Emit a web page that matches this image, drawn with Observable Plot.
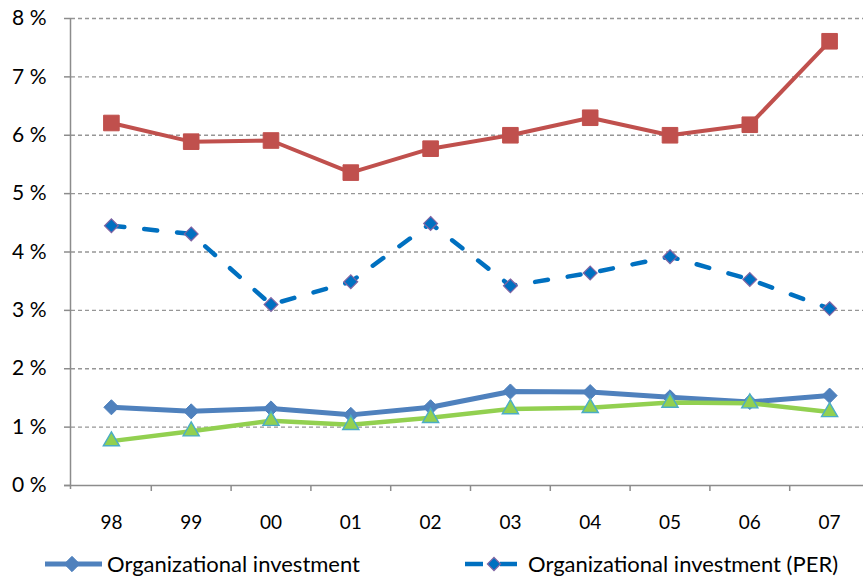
<!DOCTYPE html>
<html>
<head>
<meta charset="utf-8">
<script src="https://cdn.jsdelivr.net/npm/d3@7"></script>
<script src="https://cdn.jsdelivr.net/npm/@observablehq/plot@0.6"></script>
<style>
  html, body { margin: 0; padding: 0; background: #fff; overflow: hidden; }
  body { font-family: Lato, "Open Sans", sans-serif; }
  #legend { position: relative; height: 39px; }
  .item { position: absolute; top: 10px; height: 28px; display: flex; align-items: center;
          font-size: 22px; line-height: 28px; color: #000; white-space: nowrap; }
  .item svg { display: block; }
</style>
</head>
<body>
<div id="chart"></div>
<div id="legend"></div>
<script>
// Years on the x axis
const years = ["98", "99", "00", "01", "02", "03", "04", "05", "06", "07"];
// Y axis ticks (percent)
const yTicks = [0, 1, 2, 3, 4, 5, 6, 7, 8];

// Series values, percent
const orgInvest      = [1.34, 1.27, 1.32, 1.21, 1.34, 1.61, 1.60, 1.51, 1.43, 1.54];
const orgInvestPER   = [4.45, 4.31, 3.10, 3.49, 4.49, 3.42, 3.64, 3.92, 3.53, 3.03];
const squareSeries   = [6.21, 5.89, 5.91, 5.36, 5.77, 6.00, 6.30, 6.00, 6.18, 7.61];
const triangleSeries = [0.76, 0.93, 1.11, 1.04, 1.16, 1.31, 1.33, 1.42, 1.41, 1.26];

// Legend labels
const legendLabels = ["Organizational investment", "Organizational investment (PER)"];

const rows = (values) => years.map((year, i) => ({year, value: values[i]}));

const W = 863, H = 540;
const xRange = [71, 869];
const bw = (xRange[1] - xRange[0]) / years.length;
const axisColor = "#8c8c8c";

const chart = Plot.plot({
  width: W,
  height: H,
  marginTop: 18,
  marginBottom: 55,
  marginLeft: 71,
  marginRight: 0,
  style: {fontFamily: "Lato, 'Open Sans', sans-serif", background: "white", color: "black"},
  x: {type: "band", domain: years, range: xRange, padding: 0, round: false},
  y: {domain: [0, 8]},
  marks: [
    // dashed horizontal gridlines
    Plot.ruleY(yTicks.filter(d => d > 0), {stroke: "#969696", strokeWidth: 1.3, strokeDasharray: "4,3"}),
    // x axis line
    Plot.ruleY([0], {stroke: axisColor, strokeWidth: 1.5, insetLeft: -7}),
    // y axis line
    Plot.ruleX([years[0]], {dx: -bw / 2 - 1, y1: 8, y2: 0, stroke: axisColor, strokeWidth: 1.5, insetBottom: -4}),
    // x ticks at category boundaries
    Plot.ruleX(years.slice(1), {dx: -bw / 2, y1: 0, y2: 0, insetBottom: -6, stroke: axisColor, strokeWidth: 1.5}),
    Plot.axisY(yTicks, {
      tickSize: 7, tickPadding: 18, tickFormat: d => `${d} %`,
      fontSize: 21, stroke: axisColor, strokeWidth: 1.5, fill: "black", label: null
    }),
    Plot.axisX({tickSize: 0, tickPadding: 30, fontSize: 19, fill: "black", label: null}),

    // Organizational investment
    Plot.line(rows(orgInvest), {x: "year", y: "value", stroke: "#4F81BD", strokeWidth: 5}),
    Plot.dot(rows(orgInvest), {x: "year", y: "value", symbol: "diamond2", r: 6.8, fill: "#4F81BD", stroke: "#4F81BD", strokeWidth: 1}),

    // Organizational investment (PER)
    Plot.line(rows(orgInvestPER), {x: "year", y: "value", stroke: "#0070C0", strokeWidth: 4.5,
      strokeDasharray: "13,20", strokeLinecap: "round"}),
    Plot.dot(rows(orgInvestPER), {x: "year", y: "value", symbol: "diamond2", r: 6.2, fill: "#0070C0", stroke: "#8064A2", strokeWidth: 1.2}),

    // square-marker series
    Plot.line(rows(squareSeries), {x: "year", y: "value", stroke: "#C0504D", strokeWidth: 4}),
    Plot.dot(rows(squareSeries), {x: "year", y: "value", symbol: "square", r: 8.8, fill: "#C0504D", stroke: "#C0504D", strokeWidth: 1}),

    // triangle-marker series
    Plot.line(rows(triangleSeries), {x: "year", y: "value", stroke: "#92D050", strokeWidth: 4.5}),
    Plot.dot(rows(triangleSeries), {x: "year", y: "value", symbol: "triangle", r: 6, fill: "#92D050", stroke: "#4BACC6", strokeWidth: 1.4})
  ]
});
document.getElementById("chart").appendChild(chart);

// Legend below the chart
const legend = d3.select("#legend");
const diamondPath = d3.symbol(d3.symbolDiamond2, 150)();

const item1 = legend.append("div").attr("class", "item").style("left", "45px");
const s1 = item1.append("svg").attr("width", 57).attr("height", 24);
s1.append("line").attr("x1", 0).attr("x2", 57).attr("y1", 12).attr("y2", 12)
  .attr("stroke", "#4F81BD").attr("stroke-width", 5);
s1.append("path").attr("d", diamondPath).attr("transform", "translate(27,12)")
  .attr("fill", "#4F81BD").attr("stroke", "#4F81BD");
item1.append("span").style("margin-left", "5px").text(legendLabels[0]);

const item2 = legend.append("div").attr("class", "item").style("left", "465px");
const s2 = item2.append("svg").attr("width", 52).attr("height", 24);
s2.append("line").attr("x1", 0).attr("x2", 52).attr("y1", 12).attr("y2", 12)
  .attr("stroke", "#0070C0").attr("stroke-width", 4.5).attr("stroke-dasharray", "18,17,17");
s2.append("path").attr("d", d3.symbol(d3.symbolDiamond2, 110)()).attr("transform", "translate(29,12)")
  .attr("fill", "#0070C0").attr("stroke", "#8064A2").attr("stroke-width", 1.2);
item2.append("span").style("margin-left", "11px").text(legendLabels[1]);
</script>
</body>
</html>
